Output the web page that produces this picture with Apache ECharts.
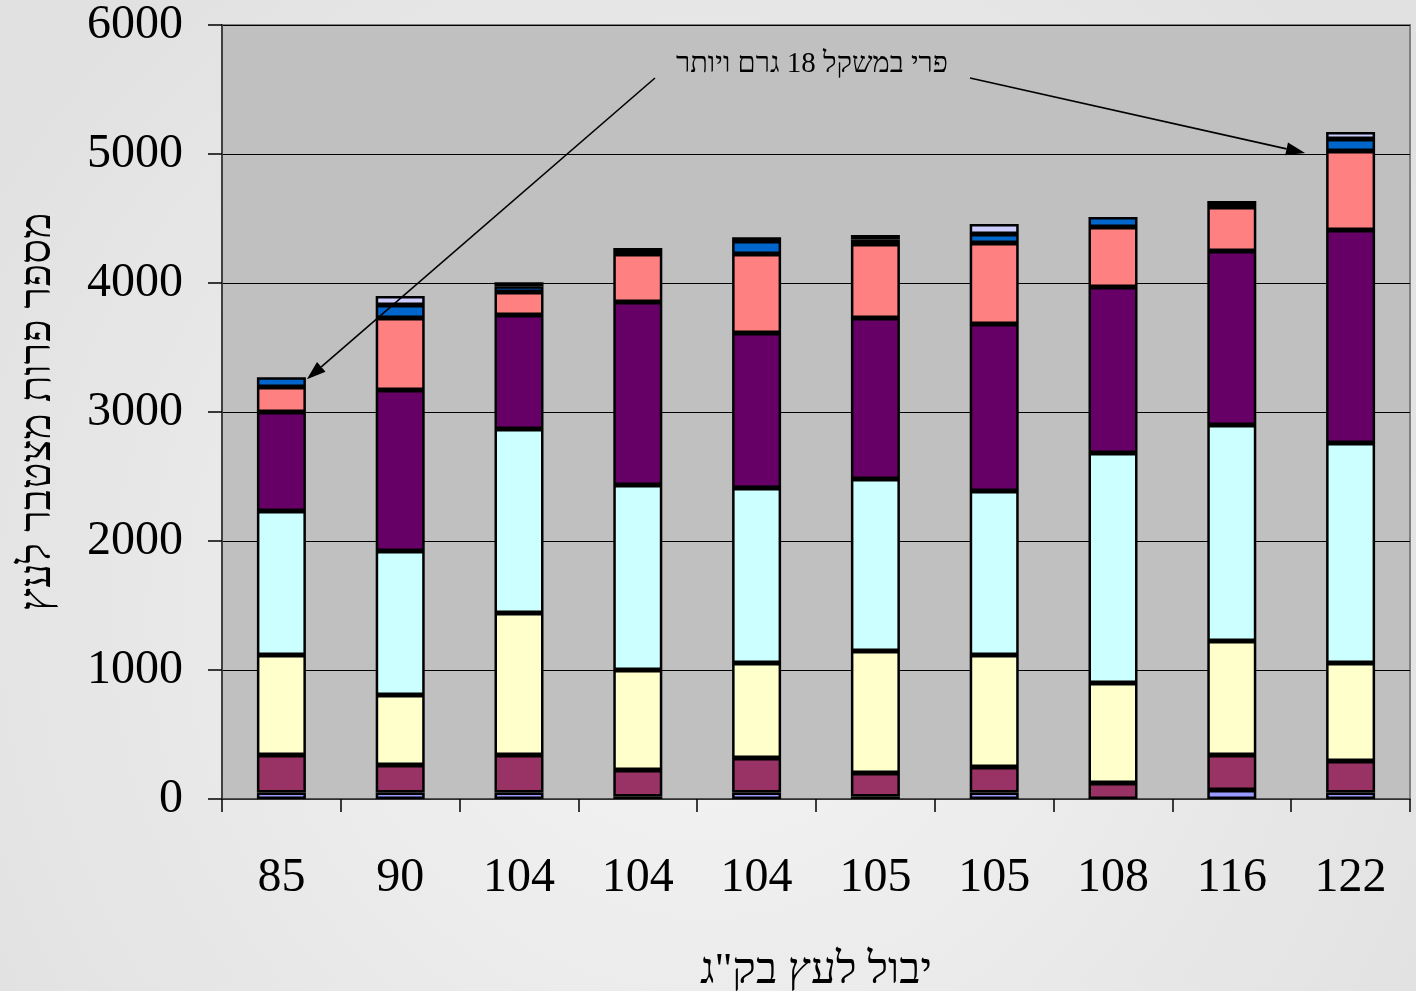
<!DOCTYPE html>
<html>
<head>
<meta charset="utf-8">
<script src="https://cdn.jsdelivr.net/npm/echarts@6/dist/echarts.min.js"></script>
<style>
html, body { margin: 0; padding: 0; width: 1416px; height: 991px; overflow: hidden; }
#chart { width: 1416px; height: 991px; }
</style>
</head>
<body>
<div id="chart"></div>
<script>
// Yield per tree (kg) for each tree
const categories = ['85', '90', '104', '104', '104', '105', '105', '108', '116', '122'];

// Fruit counts per tree, by weight class (lightest at the bottom of the stack)
const classA = [50, 50, 50, 20, 50, 20, 50, 0, 70, 50];
const classB = [291, 214, 291, 205, 268, 182, 198, 124, 271, 245];
const classC = [775, 542, 1101, 775, 736, 945, 868, 775, 884, 759];
const classD = [1117, 1116, 1426, 1434, 1357, 1334, 1272, 1783, 1674, 1706];
const classE = [767, 1249, 884, 1419, 1201, 1248, 1294, 1287, 1349, 1651];
const classF = [194, 558, 178, 372, 613, 573, 628, 465, 341, 612];
const classG = [75, 100, 45, 23, 100, 35, 70, 78, 24, 93];
const classH = [0, 70, 30, 23, 30, 35, 77, 0, 23, 55];

const yTicks = { min: 0, max: 6000, step: 1000 };

const seriesDefs = [
  { name: 'A', data: classA, color: '#9999FF' },
  { name: 'B', data: classB, color: '#993366' },
  { name: 'C', data: classC, color: '#FFFFCC' },
  { name: 'D', data: classD, color: '#CCFFFF' },
  { name: 'E', data: classE, color: '#660066' },
  { name: 'F', data: classF, color: '#FF8080' },
  { name: 'G', data: classG, color: '#0066CC' },
  { name: 'H', data: classH, color: '#CCCCFF' }
];

const serif = "'Liberation Serif', 'DejaVu Serif', 'DejaVu Sans', serif";
const BAR_W = 49;

const chart = echarts.init(document.getElementById('chart'), null, { renderer: 'canvas' });

const option = {
  animation: false,
  backgroundColor: {
    type: 'radial', x: 0.5, y: 0.62, r: 0.85,
    colorStops: [
      { offset: 0, color: '#F5F5F5' },
      { offset: 1, color: '#E1E1E1' }
    ]
  },
  grid: {
    left: 222, right: 6, top: 25, bottom: 192,
    outerBoundsMode: 'none',
    containLabel: false,
    show: true,
    backgroundColor: '#C0C0C0',
    borderColor: '#808080',
    borderWidth: 2
  },
  xAxis: {
    type: 'category',
    data: categories,
    boundaryGap: true,
    name: 'יבול לעץ בק"ג',
    nameLocation: 'middle',
    nameGap: 150,
    nameTextStyle: { fontFamily: serif, fontSize: 44, color: '#000' },
    axisLine: { show: true, lineStyle: { color: '#404040', width: 1.5 } },
    axisTick: { show: true, length: 13, lineStyle: { color: '#000', width: 1.5 } },
    axisLabel: { fontFamily: serif, fontSize: 48, color: '#000', margin: 55 },
    splitLine: { show: false }
  },
  yAxis: {
    type: 'value',
    min: yTicks.min,
    max: yTicks.max,
    interval: yTicks.step,
    name: 'מספר פרות מצטבר לעץ',
    nameLocation: 'middle',
    nameGap: 162,
    nameRotate: 90,
    nameTextStyle: { fontFamily: serif, fontSize: 44, color: '#000' },
    axisLine: { show: true, lineStyle: { color: '#404040', width: 2 } },
    axisTick: { show: true, length: 14, lineStyle: { color: '#000', width: 1.5 } },
    axisLabel: {
      fontFamily: serif, fontSize: 48, color: '#000', margin: 39,
      formatter: v => String(v)
    },
    splitLine: { show: true, lineStyle: { color: '#000', width: 1 } }
  },
  series: seriesDefs.map(s => ({
    name: s.name,
    type: 'bar',
    stack: 'total',
    barWidth: BAR_W,
    data: s.data.map(v => (v === 0 ? null : v)),
    itemStyle: { color: s.color, borderColor: '#000', borderWidth: 2.5 },
    emphasis: { disabled: true }
  }))
};

chart.setOption(option);

// Annotation: caption with two arrows pointing at the heaviest fruit class
function stackTop(idx, upto) {
  let sum = 0;
  for (let k = 0; k < upto; k++) sum += seriesDefs[k].data[idx];
  return sum;
}

function arrow(from, to) {
  const dx = to[0] - from[0], dy = to[1] - from[1];
  const len = Math.sqrt(dx * dx + dy * dy);
  const ux = dx / len, uy = dy / len;
  const headLen = 19, headHalf = 6.5;
  const bx = to[0] - ux * headLen, by = to[1] - uy * headLen;
  return [
    {
      type: 'line', silent: true, z: 100,
      shape: { x1: from[0], y1: from[1], x2: bx, y2: by },
      style: { stroke: '#000', lineWidth: 1.6 }
    },
    {
      type: 'polygon', silent: true, z: 100,
      shape: { points: [to, [bx - uy * headHalf, by + ux * headHalf], [bx + uy * headHalf, by - ux * headHalf]] },
      style: { fill: '#000' }
    }
  ];
}

const cs = { xAxisIndex: 0, yAxisIndex: 0 };
const firstTop = chart.convertToPixel(cs, [0, stackTop(0, seriesDefs.length)]);
const lastIdx = categories.length - 1;
const lastTop = chart.convertToPixel(cs, [lastIdx, stackTop(lastIdx, 6)]);

const capX = 812, capY = 64;
const graphics = [
  {
    type: 'text', silent: true, z: 100,
    style: {
      text: 'פרי במשקל 18 גרם ויותר',
      x: capX, y: capY,
      align: 'center', verticalAlign: 'middle',
      font: '29px ' + serif,
      fill: '#000'
    }
  }
].concat(
  arrow([capX - 157, capY + 14], [firstTop[0] + BAR_W / 2 + 1, firstTop[1] + 2]),
  arrow([capX + 158, capY + 14], [lastTop[0] - BAR_W / 2 - 21, lastTop[1] + 2])
);

chart.setOption({ graphic: graphics });
</script>
</body>
</html>
